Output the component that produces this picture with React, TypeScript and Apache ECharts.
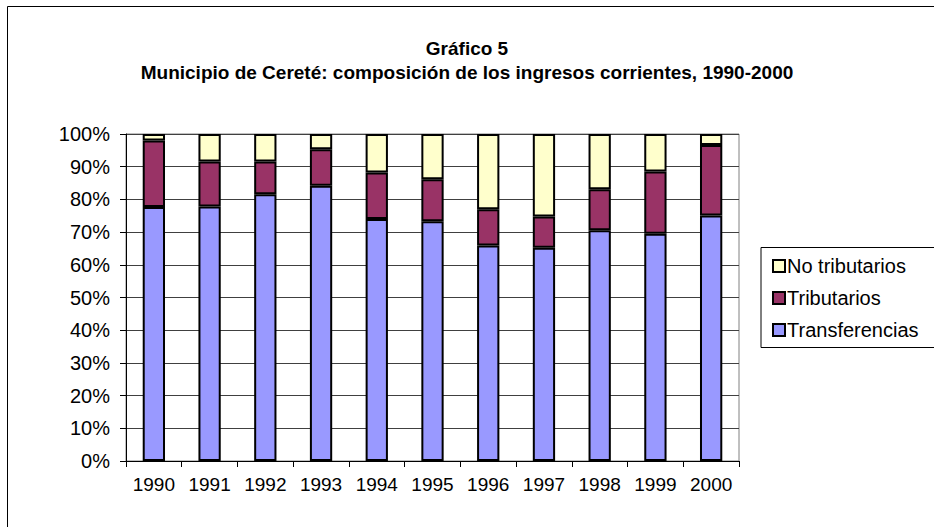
import React, { useEffect, useRef } from "react";
import * as echarts from "echarts";

const years = ["1990", "1991", "1992", "1993", "1994", "1995", "1996", "1997", "1998", "1999", "2000"];
const transferencias = [77.7, 77.8, 81.6, 84.2, 74.0, 73.3, 65.9, 65.2, 70.6, 69.5, 75.1];
const tributarios = [20.3, 13.8, 10.0, 11.1, 14.2, 12.9, 11.1, 9.6, 12.5, 19.0, 21.5];
const noTributarios = [2.0, 8.4, 8.4, 4.7, 11.8, 13.8, 23.0, 25.2, 16.9, 11.5, 3.4];

const titleLine1 = "Gráfico 5";
const titleLine2 = "Municipio de Cereté: composición de los ingresos corrientes, 1990-2000";

const FONT = "Arial";

export default function App() {
  const ref = useRef<HTMLDivElement>(null);
  useEffect(() => {
    document.body.style.margin = "0";
    const chart = echarts.init(ref.current!, null, { renderer: "svg" });
    const barStyle = (color: string) => ({
      color,
      borderColor: "#000",
      borderWidth: 2,
    });
    chart.setOption({
      animation: false,
      backgroundColor: "#fff",
      textStyle: { fontFamily: FONT },
      title: {
        text: titleLine1 + "\n" + titleLine2,
        left: "center",
        top: 31,
        textStyle: {
          fontFamily: FONT,
          fontSize: 19,
          fontWeight: "bold",
          color: "#000",
          lineHeight: 24,
        },
      },
      graphic: [
        {
          type: "rect",
          shape: { x: 7.5, y: 6.5, width: 1000, height: 600 },
          style: { fill: "none", stroke: "#000", lineWidth: 1 },
          silent: true,
          z: -1,
        },
        {
          type: "rect",
          shape: { x: 761, y: 247.5, width: 300, height: 100 },
          style: { fill: "#fff", stroke: "#000", lineWidth: 1 },
          silent: true,
          z: 0,
        },
      ],
      legend: {
        orient: "vertical",
        left: 767,
        top: 251,
        itemWidth: 12,
        itemHeight: 12,
        itemGap: 12,
        icon: "rect",
        data: ["No tributarios", "Tributarios", "Transferencias"],
        itemStyle: { borderColor: "#000", borderWidth: 2 },
        textStyle: { fontFamily: FONT, fontSize: 20, color: "#000", padding: [0, 0, 0, -3] },
        z: 5,
      },
      grid: {
        left: 126,
        right: 195,
        top: 134,
        bottom: 66,
        show: true,
        borderColor: "#808080",
        borderWidth: 1,
        backgroundColor: "#fff",
      },
      xAxis: {
        type: "category",
        data: years,
        axisLine: { lineStyle: { color: "#000", width: 1 } },
        axisTick: { show: true, length: 6, lineStyle: { color: "#000" } },
        axisLabel: { color: "#000", fontSize: 19, fontFamily: FONT, margin: 14 },
      },
      yAxis: {
        type: "value",
        min: 0,
        max: 100,
        interval: 10,
        axisLine: { show: true, lineStyle: { color: "#000", width: 1 } },
        axisTick: { show: true, length: 6, lineStyle: { color: "#000" } },
        axisLabel: {
          color: "#000",
          fontSize: 20,
          fontFamily: FONT,
          margin: 16,
          formatter: (v: number) => v + "%",
        },
        splitLine: { show: true, lineStyle: { color: "#404040", width: 1 } },
      },
      series: [
        {
          name: "Transferencias",
          type: "bar",
          stack: "total",
          barWidth: "40%",
          data: transferencias,
          itemStyle: barStyle("#9999FF"),
        },
        {
          name: "Tributarios",
          type: "bar",
          stack: "total",
          barWidth: "40%",
          data: tributarios,
          itemStyle: barStyle("#993366"),
        },
        {
          name: "No tributarios",
          type: "bar",
          stack: "total",
          barWidth: "40%",
          data: noTributarios,
          itemStyle: barStyle("#FFFFCC"),
        },
      ],
    });
    return () => chart.dispose();
  }, []);
  return <div ref={ref} style={{ position: "fixed", left: 0, top: 0, width: 934, height: 527 }} />;
}
